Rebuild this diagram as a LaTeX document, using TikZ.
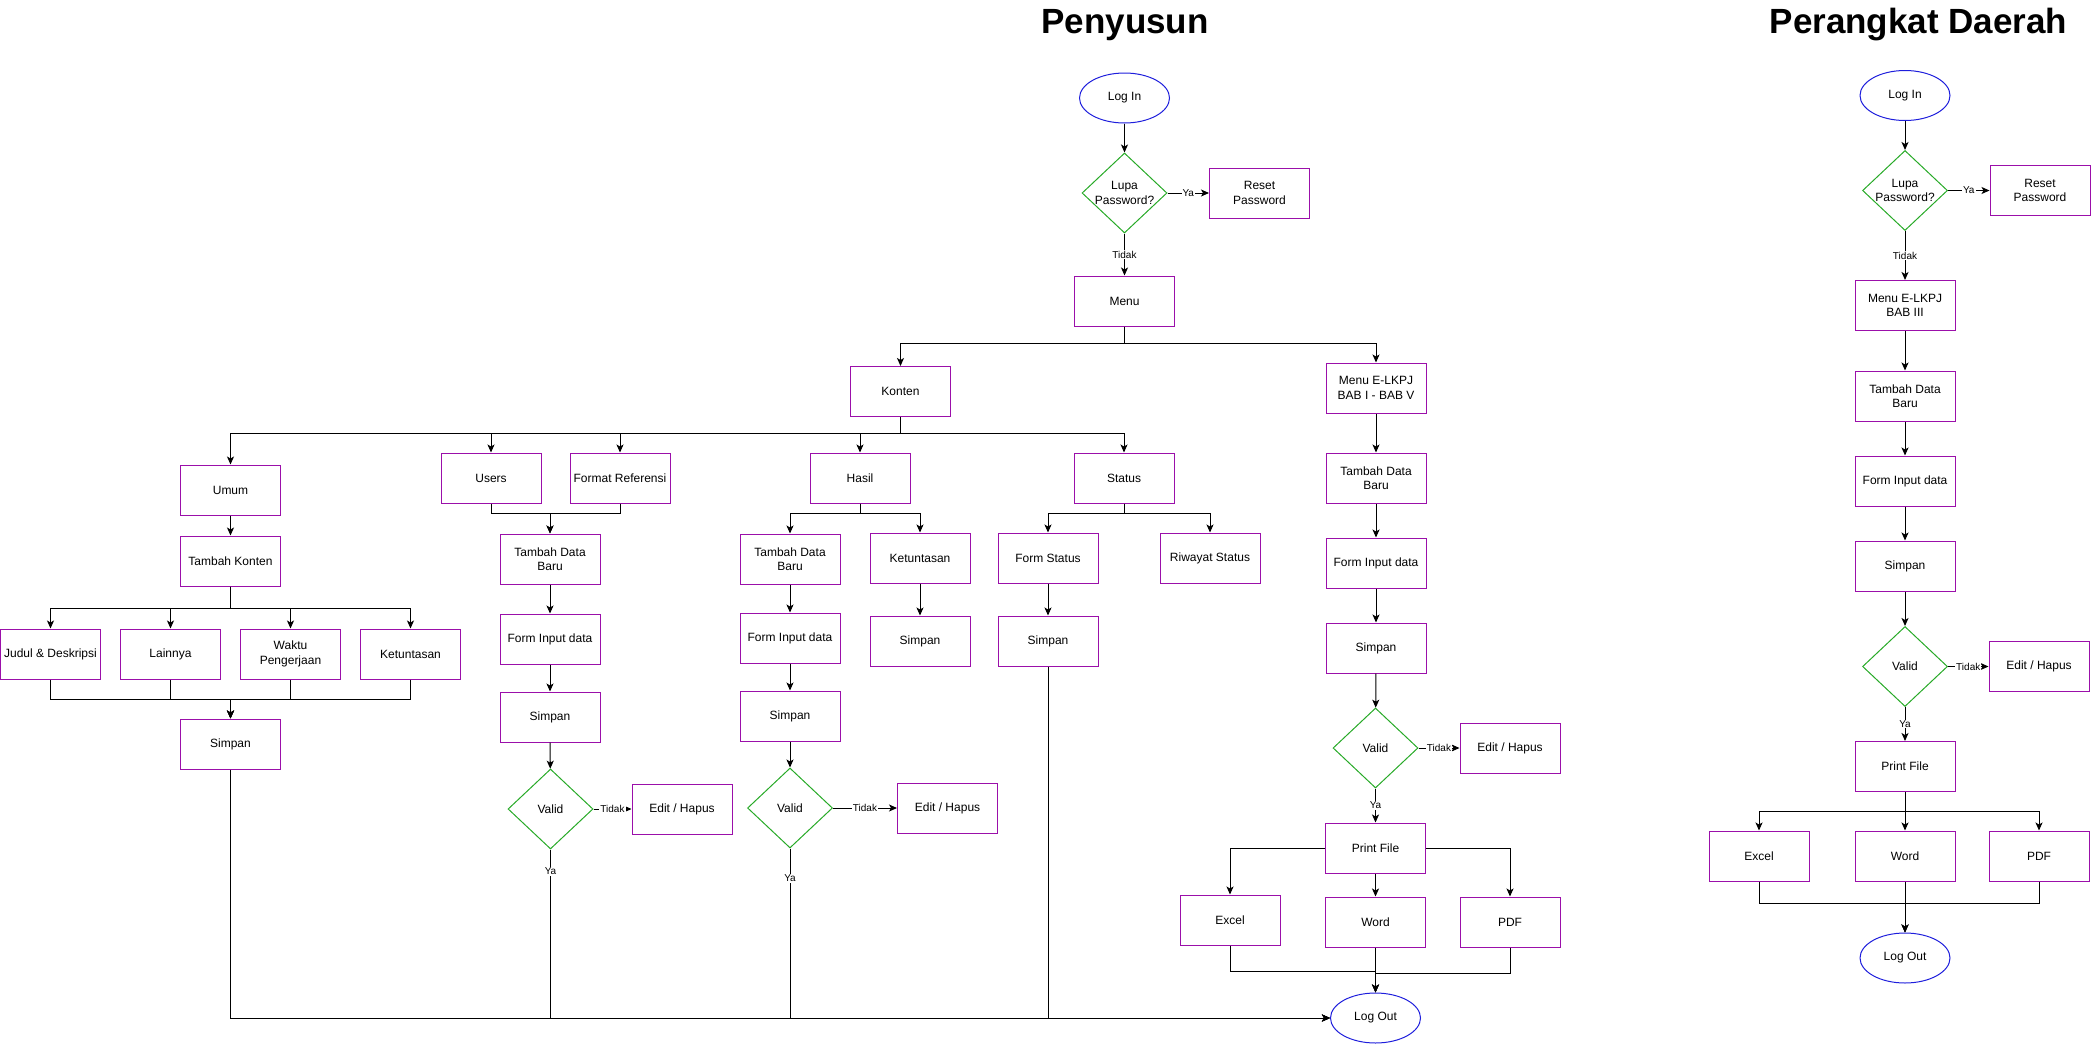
\documentclass[tikz,border=0pt]{standalone}
\usepackage{fontspec}
\setmainfont{Liberation Sans}
\usetikzlibrary{shapes.geometric,arrows.meta}
\definecolor{boxc}{RGB}{155,15,170}
\definecolor{diac}{RGB}{40,170,40}
\definecolor{ellc}{RGB}{30,30,220}
\begin{document}
\begin{tikzpicture}[x=1pt,y=-1pt,
  box/.style={draw=boxc, line width=1pt, minimum width=100pt, minimum height=50pt, inner sep=0pt, align=center, font=\fontsize{12}{14.5}\selectfont},
  dia/.style={draw=diac, line width=1pt, diamond, minimum width=85pt, minimum height=80pt, inner sep=0pt},
  dtxt/.style={align=center, inner sep=0pt, font=\fontsize{12}{14.5}\selectfont},
  ell/.style={draw=ellc, line width=1pt, ellipse, minimum width=90pt, minimum height=50pt, inner sep=0pt, font=\fontsize{12}{14.5}\selectfont},
  arr/.style={draw=black, line width=1pt, -{Stealth[length=8pt,width=7pt,inset=2pt]}},
  ln/.style={draw=black, line width=1pt},
  lbl/.style={fill=white, inner sep=1pt, font=\fontsize{10}{12}\selectfont},
  ttl/.style={font=\bfseries\fontsize{35}{42}\selectfont, anchor=base}
]
\useasboundingbox (0,0) rectangle (2091,1044);

% titles
\node[ttl] (t1) at (1125,34) {Penyusun};
\node[ttl] (t2) at (1918.5,33) {Perangkat Daerah};

% ---------------- Penyusun ----------------
\node[ell] (loginP) at (1124.5,98) {Log In};
\node[dia, label={[dtxt]center:Lupa\\Password?}] (lupaP) at (1124.5,193) {};
\node[box] (resetP) at (1259.5,193) {Reset\\Password};
\node[box] (menuP) at (1124.5,301) {Menu};
\node[box] (konten) at (900.5,391.5) {Konten};
\node[box] (elkpj) at (1376,388) {Menu E-LKPJ\\BAB I - BAB V};

\node[box] (umum) at (230.5,490) {Umum};
\node[box] (users) at (491,478) {Users};
\node[box] (formref) at (620,478) {Format Referensi};
\node[box] (hasil) at (860,478) {Hasil};
\node[box] (status) at (1124,478) {Status};

\node[box] (tkonten) at (230.5,561) {Tambah Konten};
\node[box] (judul) at (50.5,654) {Judul \& Deskripsi};
\node[box] (lain) at (170.5,654) {Lainnya};
\node[box] (waktu) at (290.5,654) {Waktu\\Pengerjaan};
\node[box] (ketun1) at (410.5,654) {Ketuntasan};
\node[box] (simpanU) at (230.5,744) {Simpan};

\node[box] (tdb1) at (550,559) {Tambah Data\\Baru};
\node[box] (fid1) at (550,639) {Form Input data};
\node[box] (simpan1) at (550,717) {Simpan};
\node[dia, label={[dtxt]center:Valid}] (valid1) at (550.5,809) {};
\node[box] (edit1) at (682,809) {Edit / Hapus};

\node[box] (tdb2) at (790,559) {Tambah Data\\Baru};
\node[box] (fid2) at (790,638) {Form Input data};
\node[box] (simpan2) at (790,716) {Simpan};
\node[dia, label={[dtxt]center:Valid}] (valid2) at (790,808) {};
\node[box] (edit2) at (947.5,808) {Edit / Hapus};

\node[box] (ketun2) at (920,558) {Ketuntasan};
\node[box] (simpanK) at (920,641) {Simpan};

\node[box] (fstatus) at (1048,558) {Form Status};
\node[box] (simpanS) at (1048,641) {Simpan};
\node[box] (riwayat) at (1210,558) {Riwayat Status};

\node[box] (tdb3) at (1376,478) {Tambah Data\\Baru};
\node[box] (fid3) at (1376,563) {Form Input data};
\node[box] (simpan3) at (1376,648) {Simpan};
\node[dia, label={[dtxt]center:Valid}] (valid3) at (1375.5,748) {};
\node[box] (edit3) at (1510,748) {Edit / Hapus};
\node[box] (print3) at (1375.5,848) {Print File};
\node[box] (excel3) at (1230,920) {Excel};
\node[box] (word3) at (1375.5,922) {Word};
\node[box] (pdf3) at (1510,922) {PDF};
\node[ell] (logoutP) at (1375.5,1018) {Log Out};

% connectors Penyusun
\draw[arr] (loginP) -- (lupaP);
\draw[arr] (lupaP.east) -- node[lbl]{Ya} (resetP.west);
\draw[arr] (lupaP.south) -- node[lbl]{Tidak} (menuP.north);
\draw[arr] (menuP.south) -- ++(0,17) -| (konten.north);
\draw[arr] (menuP.south) -- ++(0,17) -| (elkpj.north);
\foreach \n in {umum,users,formref,hasil,status}
  \draw[arr] (konten.south) -- ++(0,16) -| (\n.north);

\draw[arr] (umum) -- (tkonten);
\foreach \n in {judul,lain,waktu,ketun1}
  \draw[arr] (tkonten.south) -- ++(0,22) -| (\n.north);
\foreach \n in {judul,lain,waktu,ketun1}
  \draw[arr] (\n.south) -- ++(0,20) -| (simpanU.north);

\draw[arr] (users.south) -- ++(0,10) -| (tdb1.north);
\draw[arr] (formref.south) -- ++(0,10) -| (tdb1.north);
\draw[arr] (tdb1) -- (fid1);
\draw[arr] (fid1) -- (simpan1);
\draw[arr] (simpan1) -- (valid1);
\draw[arr] (valid1.east) -- node[lbl]{Tidak} (edit1.west);

\draw[arr] (hasil.south) -- ++(0,10) -| (tdb2.north);
\draw[arr] (hasil.south) -- ++(0,10) -| (ketun2.north);
\draw[arr] (tdb2) -- (fid2);
\draw[arr] (fid2) -- (simpan2);
\draw[arr] (simpan2) -- (valid2);
\draw[arr] (valid2.east) -- node[lbl]{Tidak} (edit2.west);
\draw[arr] (ketun2) -- (simpanK);

\draw[arr] (status.south) -- ++(0,10) -| (fstatus.north);
\draw[arr] (status.south) -- ++(0,10) -| (riwayat.north);
\draw[arr] (fstatus) -- (simpanS);

\draw[arr] (simpanU.south) |- (logoutP.west);
\draw[arr] (valid1.south) |- node[lbl,pos=0.065]{Ya} (logoutP.west);
\draw[arr] (valid2.south) |- node[lbl,pos=0.088]{Ya} (logoutP.west);
\draw[arr] (simpanS.south) |- (logoutP.west);

\draw[arr] (elkpj) -- (tdb3);
\draw[arr] (tdb3) -- (fid3);
\draw[arr] (fid3) -- (simpan3);
\draw[arr] (simpan3) -- (valid3);
\draw[arr] (valid3.east) -- node[lbl]{Tidak} (edit3.west);
\draw[arr] (valid3.south) -- node[lbl]{Ya} (print3.north);
\draw[arr] (print3.west) -| (excel3.north);
\draw[arr] (print3.east) -| (pdf3.north);
\draw[arr] (print3) -- (word3);
\draw[arr] (excel3.south) -- ++(0,26) -| (logoutP.north);
\draw[arr] (pdf3.south) -- ++(0,26) -| (logoutP.north);
\draw[arr] (word3) -- (logoutP);

% ---------------- Perangkat Daerah ----------------
\node[ell] (loginD) at (1905,95.5) {Log In};
\node[dia, label={[dtxt]center:Lupa\\Password?}] (lupaD) at (1905,190.5) {};
\node[box] (resetD) at (2040,190.5) {Reset\\Password};
\node[box] (menuD) at (1905,305.5) {Menu E-LKPJ\\BAB III};
\node[box] (tdbD) at (1905,396) {Tambah Data\\Baru};
\node[box] (fidD) at (1905,481) {Form Input data};
\node[box] (simpanD) at (1905,566) {Simpan};
\node[dia, label={[dtxt]center:Valid}] (validD) at (1905,666.5) {};
\node[box] (editD) at (2039,666.5) {Edit / Hapus};
\node[box] (printD) at (1905,766.5) {Print File};
\node[box] (excelD) at (1759,856) {Excel};
\node[box] (wordD) at (1905,856) {Word};
\node[box] (pdfD) at (2039,856) {PDF};
\node[ell] (logoutD) at (1905,958) {Log Out};

\draw[arr] (loginD) -- (lupaD);
\draw[arr] (lupaD.east) -- node[lbl]{Ya} (resetD.west);
\draw[arr] (lupaD.south) -- node[lbl]{Tidak} (menuD.north);
\draw[arr] (menuD) -- (tdbD);
\draw[arr] (tdbD) -- (fidD);
\draw[arr] (fidD) -- (simpanD);
\draw[arr] (simpanD) -- (validD);
\draw[arr] (validD.east) -- node[lbl]{Tidak} (editD.west);
\draw[arr] (validD.south) -- node[lbl]{Ya} (printD.north);
\draw[arr] (printD.south) -- ++(0,19.5) -| (excelD.north);
\draw[arr] (printD.south) -- ++(0,19.5) -| (pdfD.north);
\draw[arr] (printD) -- (wordD);
\draw[arr] (excelD.south) -- ++(0,22) -| (logoutD.north);
\draw[arr] (pdfD.south) -- ++(0,22) -| (logoutD.north);
\draw[arr] (wordD) -- (logoutD);
\end{tikzpicture}
\end{document}
